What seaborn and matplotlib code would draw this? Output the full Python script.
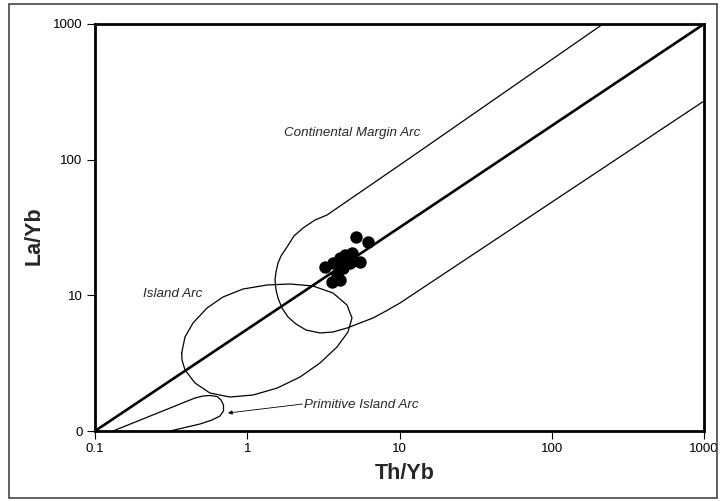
import matplotlib
matplotlib.use("Agg")
import matplotlib.pyplot as plt
from matplotlib.patches import Rectangle
from matplotlib.ticker import FixedLocator, FixedFormatter, NullLocator
import seaborn as sns
import pandas as pd

sns.set_theme(style="white")
plt.rcParams["font.family"] = ["Liberation Sans", "DejaVu Sans"]

# Sample compositions (Th/Yb, La/Yb)
th_yb = [5.18, 6.21, 3.24, 3.66, 4.07, 4.39, 4.875, 5.50, 4.25, 3.89, 3.60, 4.07, 4.73, 4.59]
la_yb = [26.9, 24.7, 16.2, 17.3, 18.8, 19.8, 20.5, 17.6, 15.9, 14.1, 12.5, 12.97, 17.3, 18.8]

# Reference trend line
trend_x = [0.1, 1000]
trend_y = [1, 1000]

# Continental margin arc field outline
cma_x = [217.1, 11.20, 3.341, 2.786, 2.324, 2.028, 1.824, 1.666, 1.592, 1.545, 1.521,
         1.545, 1.592, 1.691, 1.852, 2.090, 2.432, 3.004, 3.66, 4.521, 5.50, 6.697,
         8.153, 10.08, 1000]
cma_y = [1000, 99.4, 39.09, 35.9, 31.35, 27.4, 22.71, 19.49, 17.31, 14.86, 12.97,
         10.95, 9.557, 8.066, 6.923, 6.147, 5.55, 5.28, 5.367, 5.74, 6.25, 6.81,
         7.664, 8.78, 270.6]

# Island arc field outline (closed)
ia_x = [0.3711, 0.3901, 0.4403, 0.5442, 0.693, 0.9378, 1.348, 1.909, 2.703, 3.66,
        4.521, 4.875, 4.588, 3.886, 3.004, 2.221, 1.568, 1.091, 0.770, 0.569,
        0.4537, 0.3901, 0.3727, 0.3711]
ia_y = [3.757, 4.931, 6.25, 8.066, 9.72, 11.13, 11.92, 12.12, 11.72, 10.40,
        8.486, 6.81, 5.367, 4.161, 3.171, 2.50, 2.07, 1.842, 1.78, 1.905,
        2.259, 2.817, 3.337, 3.757]

# Primitive island arc field outline
pia_x = [0.1313, 0.4537, 0.5122, 0.569, 0.6329, 0.6725, 0.6982, 0.6982, 0.662,
         0.5868, 0.489, 0.311]
pia_y = [1.0, 1.751, 1.81, 1.827, 1.796, 1.692, 1.554, 1.404, 1.290,
         1.205, 1.126, 1.0]

x_ticks = [0.1, 1, 10, 100, 1000]
x_tick_labels = ["0.1", "1", "10", "100", "1000"]
y_ticks = [1, 10, 100, 1000]
y_tick_labels = ["0", "10", "100", "1000"]

fig = plt.figure(figsize=(7.21, 5.01), dpi=100)
ax = fig.add_axes([95 / 721, 1 - 431 / 501, 609 / 721, 407 / 501])
ax.set_xscale("log")
ax.set_yscale("log")
ax.set_xlim(0.1, 1000)
ax.set_ylim(1, 1000)

def outline(xs, ys, lw):
    df = pd.DataFrame({"x": xs, "y": ys})
    sns.lineplot(data=df, x="x", y="y", sort=False, estimator=None,
                 color="black", linewidth=lw, ax=ax)
    ax.lines[-1].set_solid_joinstyle("round")

outline(trend_x, trend_y, 1.9)
outline(cma_x, cma_y, 0.9)
outline(ia_x, ia_y, 0.9)
outline(pia_x, pia_y, 0.9)

pts = pd.DataFrame({"Th/Yb": th_yb, "La/Yb": la_yb})
sns.scatterplot(data=pts, x="Th/Yb", y="La/Yb", color="black", s=80,
                edgecolor="black", linewidth=0, ax=ax, zorder=5)

# Field names
label_kw = dict(style="italic", fontsize=9.6, ha="left", va="center")
ax.text(1.743, 157.2, "Continental Margin Arc", **label_kw)
ax.text(0.2067, 10.23, "Island Arc", **label_kw)
ax.text(2.358, 1.55, "Primitive Island Arc", **label_kw)
ax.annotate("", xy=(0.747, 1.357), xytext=(2.30, 1.58),
            arrowprops=dict(arrowstyle="-|>", color="black", lw=0.6,
                            mutation_scale=6, shrinkA=0, shrinkB=0))

ax.xaxis.set_major_locator(FixedLocator(x_ticks))
ax.xaxis.set_major_formatter(FixedFormatter(x_tick_labels))
ax.yaxis.set_major_locator(FixedLocator(y_ticks))
ax.yaxis.set_major_formatter(FixedFormatter(y_tick_labels))
ax.xaxis.set_minor_locator(NullLocator())
ax.yaxis.set_minor_locator(NullLocator())
ax.tick_params(axis="both", which="major", direction="out", length=6,
               width=0.8, color="black", labelsize=9.5, labelcolor="black", pad=3,
               bottom=True, left=True)

for sp in ax.spines.values():
    sp.set_visible(True)
    sp.set_color("black")
    sp.set_linewidth(2.0)

ax.set_xlabel("Th/Yb", fontsize=15.5, fontweight="bold")
ax.set_ylabel("La/Yb", fontsize=15.5, fontweight="bold")
ax.xaxis.set_label_coords(0.508, -0.078)
ax.yaxis.set_label_coords(-0.082, 0.48)

fig.patches.append(Rectangle((9 / 721, 1 - 498 / 501), 708 / 721, 494 / 501,
                             transform=fig.transFigure, fill=False,
                             edgecolor="#444444", linewidth=1.2))

fig.savefig("out.png", dpi=100, facecolor="white")
